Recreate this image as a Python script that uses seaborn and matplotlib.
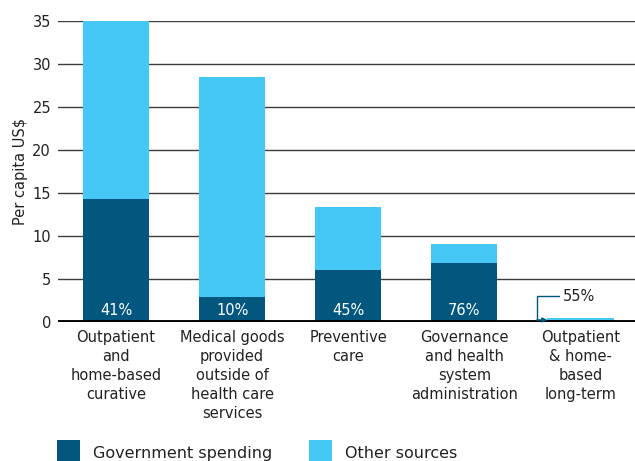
import matplotlib
matplotlib.use("Agg")
import matplotlib.pyplot as plt
from matplotlib.patches import Rectangle
import seaborn as sns
import pandas as pd

# Health spending by function, per capita US$
categories = [
    "Outpatient\nand\nhome-based\ncurative",
    "Medical goods\nprovided\noutside of\nhealth care\nservices",
    "Preventive\ncare",
    "Governance\nand health\nsystem\nadministration",
    "Outpatient\n& home-\nbased\nlong-term",
]
total_spending = [35.0, 28.5, 13.4, 9.1, 0.43]
government_spending = [14.35, 2.85, 6.0, 6.9, 0.24]
government_share = ["41%", "10%", "45%", "76%", "55%"]

DARK = "#03577F"
LIGHT = "#45C8F5"
INK = "#222222"

df = pd.DataFrame({
    "category": categories,
    "total": total_spending,
    "government": government_spending,
    "share": government_share,
})

sns.set_style("white")
plt.rcParams["font.family"] = ["DejaVu Sans"]

fig = plt.figure(figsize=(6.35, 4.61), dpi=100)
ax = fig.add_axes([58 / 635, 139 / 461, 1 - 58 / 635, (322 - 21) / 461])

bar_w = 0.57
sns.barplot(data=df, x="category", y="total", color=LIGHT, width=bar_w,
            saturation=1, linewidth=0, ax=ax, zorder=3)
sns.barplot(data=df, x="category", y="government", color=DARK, width=bar_w,
            saturation=1, linewidth=0, ax=ax, zorder=4)

ax.set_ylim(0, 35)
ax.set_xlim(-0.5, 4.47)
ax.set_yticks(range(0, 36, 5))
ax.yaxis.grid(True, color="#3c3c3c", linewidth=1.0, zorder=0)
ax.set_axisbelow(True)
for s in ax.spines.values():
    s.set_visible(False)
ax.axhline(0, color="black", linewidth=2.8, zorder=5)

ax.tick_params(axis="y", length=0, pad=5, labelsize=10.5, labelcolor=INK)
ax.tick_params(axis="x", length=0, pad=6, labelsize=10.5, labelcolor=INK)
for lbl in ax.get_xticklabels():
    lbl.set_linespacing(1.32)
    lbl.set_horizontalalignment("center")
ax.set_xlabel("")
ax.set_ylabel("Per capita US$", fontsize=10.5, color=INK)
ax.yaxis.set_label_coords(-0.052, 0.5)

# share of government spending written inside the bars
for i, row in df.iterrows():
    if i < 4:
        ax.text(i, 1.35, row["share"], ha="center", va="center",
                color="white", fontsize=10.5, zorder=6)

# callout for the small last bar
i = 4
bar_left = i - bar_w / 2
elbow_x = bar_left - 0.09
text_y = 3.0
ax.plot([bar_left + 0.1, elbow_x, elbow_x],
        [text_y, text_y, government_spending[i]],
        color=DARK, linewidth=1.0, zorder=6, solid_joinstyle="miter")
ax.annotate("", xy=(bar_left, government_spending[i]),
            xytext=(elbow_x, government_spending[i]),
            arrowprops=dict(arrowstyle="-|>", color=DARK, lw=1.0,
                            mutation_scale=7, shrinkA=0, shrinkB=0),
            zorder=6)
ax.text(bar_left + 0.13, text_y, government_share[i], ha="left", va="center",
        color=INK, fontsize=10.5, zorder=6)

# legend along the bottom edge
legend_items = [("Government spending", DARK, 57), ("Other sources", LIGHT, 309)]
for label, color, x0 in legend_items:
    fig.add_artist(Rectangle((x0 / 635, -2 / 461), 23 / 635, 23 / 461,
                             transform=fig.transFigure, facecolor=color,
                             edgecolor="none"))
    fig.text((x0 + 36) / 635, 1 - 453 / 461, label, ha="left", va="center",
             fontsize=11.5, color=INK)

fig.savefig("out.png", dpi=100)
